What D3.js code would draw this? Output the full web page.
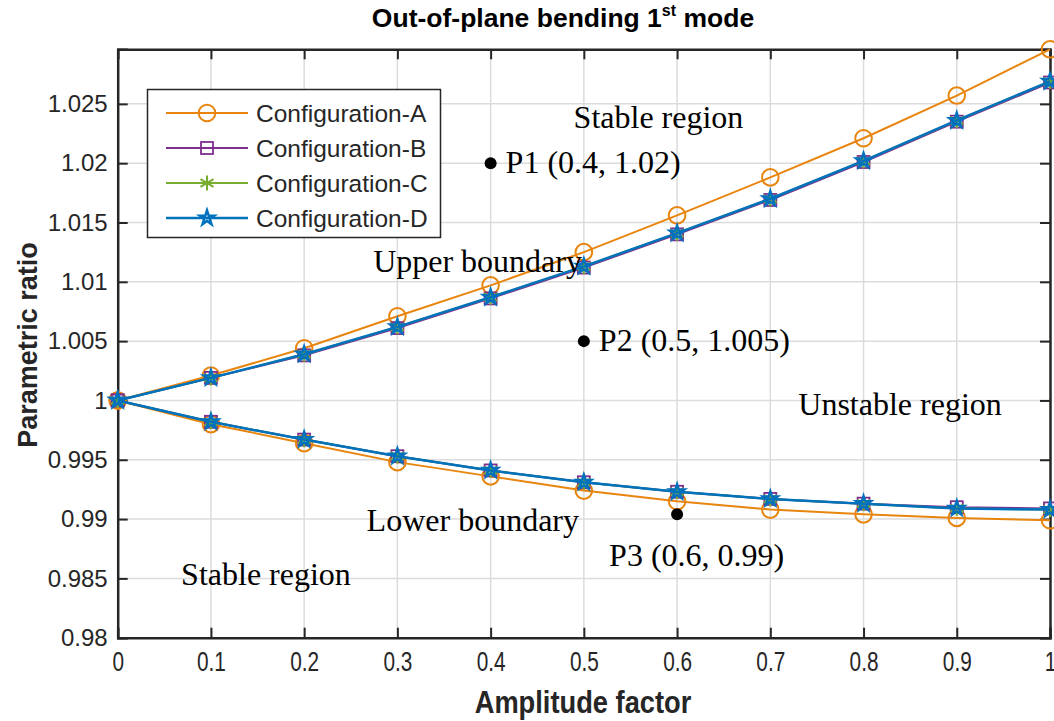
<!DOCTYPE html>
<html>
<head>
<meta charset="utf-8">
<script src="https://cdn.jsdelivr.net/npm/d3@7"></script>
<style>
  body { margin: 0; background: #fff; }
  svg { display: block; }
</style>
</head>
<body>
<div id="chart"></div>
<script>
// amplitude factor values
const amplitude = [0, 0.1, 0.2, 0.3, 0.4, 0.5, 0.6, 0.7, 0.8, 0.9, 1];

// upper / lower boundary of each configuration
const upperA = [1, 1.0021, 1.0044, 1.0071, 1.0097, 1.0125, 1.0156, 1.0188, 1.0221, 1.0257, 1.0296];
const lowerA = [1, 0.9980, 0.9964, 0.9948, 0.9936, 0.9924, 0.9915, 0.9908, 0.9904, 0.9901, 0.9899];
const upperB = [1, 1.0019, 1.0038, 1.0061, 1.0086, 1.0112, 1.0140, 1.0169, 1.0201, 1.0235, 1.0268];
const lowerB = [1, 0.9982, 0.9967, 0.9953, 0.9941, 0.9931, 0.9923, 0.9917, 0.9913, 0.9910, 0.9909];
const upperC = [1, 1.0019, 1.0039, 1.0062, 1.0087, 1.0113, 1.0141, 1.0170, 1.0202, 1.0236, 1.0269];
const lowerC = [1, 0.9982, 0.9967, 0.9953, 0.9941, 0.9931, 0.9923, 0.9917, 0.9913, 0.9909, 0.9908];
const upperD = [1, 1.0019, 1.0039, 1.0062, 1.0087, 1.0113, 1.0141, 1.0170, 1.0202, 1.0236, 1.0269];
const lowerD = [1, 0.9982, 0.9967, 0.9953, 0.9941, 0.9931, 0.9923, 0.9917, 0.9913, 0.9909, 0.9908];

const configNames = ["Configuration-A", "Configuration-B", "Configuration-C", "Configuration-D"];

const xTicks = [0, 0.1, 0.2, 0.3, 0.4, 0.5, 0.6, 0.7, 0.8, 0.9, 1];
const yTicks = [0.98, 0.985, 0.99, 0.995, 1, 1.005, 1.01, 1.015, 1.02, 1.025];

// labelled points and text annotations (data coordinates)
const pointNames = ["P1 (0.4, 1.02)", "P2 (0.5, 1.005)", "P3 (0.6, 0.99)"];
const pointX = [0.4, 0.5, 0.6];
const pointY = [1.02, 1.005, 0.9904];
const noteText = ["Stable region", "Upper boundary", "Unstable region", "Lower boundary", "Stable region"];
const noteX = [0.489, 0.274, 0.730, 0.267, 0.068];
const noteY = [1.02296, 1.0108, 0.99877, 0.98899, 0.98444];

const W = 1054, H = 721;
const plotL = 117.7, plotR = 1050, plotT = 49.3, plotB = 637.7;

const configs = [
  { name: configNames[0], upper: upperA, lower: lowerA, color: "#E8850E", marker: "circle", lw: 2 },
  { name: configNames[1], upper: upperB, lower: lowerB, color: "#7E2F8E", marker: "square", lw: 2 },
  { name: configNames[2], upper: upperC, lower: lowerC, color: "#77AC30", marker: "asterisk", lw: 2 },
  { name: configNames[3], upper: upperD, lower: lowerD, color: "#0072BD", marker: "star", lw: 2.5 }
];

const allVals = configs.flatMap(c => c.upper.concat(c.lower));

const x = d3.scaleLinear().domain([0, 1]).range([plotL, plotR]);
const y = d3.scaleLinear().domain([0.98, d3.max(allVals)]).range([plotB, plotT]);

const svg = d3.select("#chart").append("svg")
  .attr("width", W).attr("height", H);

svg.append("rect").attr("width", W).attr("height", H).attr("fill", "#fff");

// GRID
const grid = svg.append("g");
grid.selectAll(".gx").data(xTicks.slice(1, -1)).enter().append("line")
  .attr("x1", d => x(d)).attr("x2", d => x(d))
  .attr("y1", plotT).attr("y2", plotB)
  .attr("stroke", "#dcdcdc").attr("stroke-width", 1.5);
grid.selectAll(".gy").data(yTicks.slice(1)).enter().append("line")
  .attr("x1", plotL).attr("x2", plotR)
  .attr("y1", d => y(d)).attr("y2", d => y(d))
  .attr("stroke", "#dcdcdc").attr("stroke-width", 1.5);

// AXES (MATLAB style: ticks pointing inward, box on)
const axisClr = "#262626";
const xAxis = svg.append("g")
  .attr("transform", "translate(0," + plotB + ")")
  .call(d3.axisBottom(x).tickValues(xTicks).tickSize(-10).tickPadding(13)
    .tickFormat(d => d3.format("")(d)));
const yAxis = svg.append("g")
  .attr("transform", "translate(" + plotL + ",0)")
  .call(d3.axisLeft(y).tickValues(yTicks).tickSize(-10).tickPadding(10)
    .tickFormat(d => d3.format("")(d)));
const xTop = svg.append("g")
  .attr("transform", "translate(0," + plotT + ")")
  .call(d3.axisTop(x).tickValues(xTicks).tickSize(-10).tickFormat(""));
const yRight = svg.append("g")
  .attr("transform", "translate(" + plotR + ",0)")
  .call(d3.axisRight(y).tickValues(yTicks).tickSize(-10).tickFormat(""));

[xAxis, yAxis, xTop, yRight].forEach(a => {
  a.select(".domain").attr("stroke", axisClr).attr("stroke-width", 2.5);
  a.selectAll(".tick line").attr("stroke", axisClr).attr("stroke-width", 2);
});
// x tick labels look condensed in the original
xAxis.selectAll(".tick text")
  .attr("fill", axisClr)
  .attr("transform", "scale(0.8,1.05)")
  .style("font-family", "Arial, 'Liberation Sans', sans-serif")
  .style("font-size", "26px");
yAxis.selectAll(".tick text")
  .attr("fill", axisClr)
  .style("font-family", "Arial, 'Liberation Sans', sans-serif")
  .style("font-size", "24px");

// MARKERS
function drawMarker(g, type, color, cx, cy) {
  if (type === "circle") {
    g.append("circle").attr("cx", cx).attr("cy", cy).attr("r", 8.3)
      .attr("fill", "none").attr("stroke", color).attr("stroke-width", 2);
  } else if (type === "square") {
    g.append("rect").attr("x", cx - 6).attr("y", cy - 6).attr("width", 12).attr("height", 12)
      .attr("fill", "none").attr("stroke", color).attr("stroke-width", 1.8);
  } else if (type === "asterisk") {
    g.append("path")
      .attr("d", d3.symbol().type(d3.symbolAsterisk).size(160)())
      .attr("transform", "translate(" + cx + "," + cy + ")")
      .attr("fill", "none").attr("stroke", color).attr("stroke-width", 2);
  } else {
    g.append("path")
      .attr("d", d3.symbol().type(d3.symbolStar).size(65)())
      .attr("transform", "translate(" + cx + "," + cy + ")")
      .attr("fill", "none").attr("stroke", color).attr("stroke-width", 2.5);
  }
}

// LINES + MARKERS
const line = d3.line().x((d, i) => x(amplitude[i])).y(d => y(d));
configs.forEach(c => {
  const g = svg.append("g");
  [c.upper, c.lower].forEach(series => {
    g.append("path").datum(series)
      .attr("d", line)
      .attr("fill", "none").attr("stroke", c.color).attr("stroke-width", c.lw);
    series.forEach((v, i) => drawMarker(g, c.marker, c.color, x(amplitude[i]), y(v)));
  });
});

// ANNOTATIONS
const serif = "'Liberation Serif', 'Times New Roman', serif";
svg.selectAll(".pt").data(pointX).enter().append("circle")
  .attr("cx", (d, i) => x(d)).attr("cy", (d, i) => y(pointY[i]))
  .attr("r", 6).attr("fill", "#000");
svg.selectAll(".ptlabel").data(pointNames).enter().append("text")
  .attr("x", (d, i) => x(pointX[i]) + (i === 2 ? -68 : 15))
  .attr("y", (d, i) => y(pointY[i]) + (i === 2 ? 52 : 10))
  .style("font-family", serif).style("font-size", "32px")
  .text(d => d);
svg.selectAll(".note").data(noteText).enter().append("text")
  .attr("x", (d, i) => x(noteX[i])).attr("y", (d, i) => y(noteY[i]))
  .style("font-family", serif).style("font-size", "32px")
  .text(d => d);

// LEGEND
const legend = svg.append("g");
legend.append("rect")
  .attr("x", 147.5).attr("y", 89.5).attr("width", 293).attr("height", 148)
  .attr("fill", "#fff").attr("stroke", axisClr).attr("stroke-width", 1.5);
configs.forEach((c, i) => {
  const ly = 113 + i * 35;
  legend.append("line").attr("x1", 166).attr("x2", 248).attr("y1", ly).attr("y2", ly)
    .attr("stroke", c.color).attr("stroke-width", c.lw);
  drawMarker(legend, c.marker, c.color, 207, ly);
  legend.append("text").attr("x", 256).attr("y", ly + 9)
    .attr("fill", axisClr)
    .style("font-family", "Arial, 'Liberation Sans', sans-serif").style("font-size", "24.5px")
    .text(c.name);
});

// TITLE + AXIS LABELS
const title = svg.append("text")
  .attr("x", 563).attr("y", 27)
  .attr("text-anchor", "middle")
  .style("font-family", "Arial, 'Liberation Sans', sans-serif")
  .style("font-size", "26.5px").style("font-weight", "bold").attr("fill", "#000");
title.append("tspan").text("Out-of-plane bending 1");
title.append("tspan").attr("dy", -11).style("font-size", "16px").text("st");
title.append("tspan").attr("dy", 11).text(" mode");

svg.append("text")
  .attr("transform", "translate(583,713) scale(0.88,1)")
  .attr("text-anchor", "middle")
  .style("font-family", "Arial, 'Liberation Sans', sans-serif")
  .style("font-size", "31px").style("font-weight", "bold").attr("fill", axisClr)
  .text("Amplitude factor");

svg.append("text")
  .attr("transform", "translate(37," + 345 + ") rotate(-90)")
  .attr("text-anchor", "middle")
  .style("font-family", "Arial, 'Liberation Sans', sans-serif")
  .style("font-size", "27px").style("font-weight", "bold").attr("fill", axisClr)
  .text("Parametric ratio");
</script>
</body>
</html>
